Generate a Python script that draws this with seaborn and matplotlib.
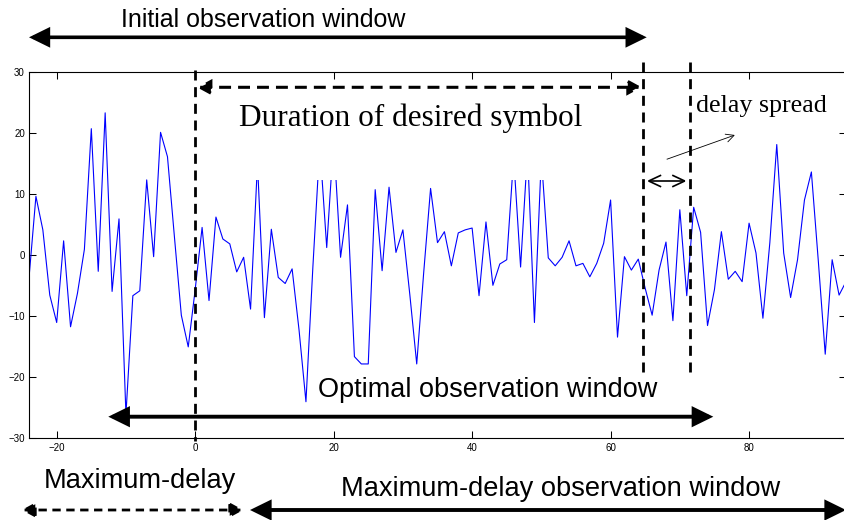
import numpy as np
import pandas as pd
import matplotlib
matplotlib.use("Agg")
import matplotlib.pyplot as plt
from matplotlib.patches import Rectangle
import seaborn as sns

# ---------------- data ----------------
sample_index = list(range(-24, 95))
signal_values = [
    -3.8, 9.6, 4.1, -6.6, -11.1, 2.3, -11.8, -6.3, 0.9, 20.7,
    -2.7, 23.3, -6.0, 5.9, -26.2, -6.7, -5.9, 12.3, -0.3, 20.1,
    16.1, 3.0, -9.9, -15.1, -5.7, 4.5, -7.5, 6.2, 2.6, 1.8,
    -2.8, -0.4, -8.9, 15.0, -10.3, 4.2, -3.7, -4.7, -2.3, -12.3,
    -24.1, -2.0, 18.0, 1.2, 19.0, -0.4, 8.2, -16.7, -17.9, -17.9,
    10.7, -2.6, 11.1, 0.4, 4.1, -6.5, -17.9, -3.0, 10.9, 2.0,
    3.8, -1.8, 3.6, 4.1, 4.4, -6.7, 5.4, -5.0, -1.5, -0.8,
    16.0, -2.0, 17.0, -11.1, 16.0, -0.5, -1.8, -0.4, 2.3, -1.8,
    -1.4, -3.6, -1.4, 1.9, 9.0, -13.5, -0.3, -2.5, -0.7, -5.5,
    -9.9, -2.5, 2.1, -10.8, 7.4, -6.7, 7.8, 3.7, -11.6, -5.7,
    3.8, -4.0, -2.7, -4.4, 5.2, 0.3, -10.4, 2.0, 18.1, 0.3,
    -7.0, -0.8, 9.0, 13.6, -1.0, -16.3, -0.8, -6.6, -4.4,
]
x_ticks = [-20, 0, 20, 40, 60, 80]
y_ticks = [-30, -20, -10, 0, 10, 20, 30]
symbol_start = 0.0
symbol_end = 64.7
delay_end = 71.4

df = pd.DataFrame({"n": sample_index, "v": signal_values})

# ---------------- style ----------------
sns.set_style("ticks")
plt.rcParams["font.family"] = ["Liberation Sans", "DejaVu Sans"]
plt.rcParams["text.color"] = "black"
plt.rcParams["xtick.labelcolor"] = "black"
plt.rcParams["ytick.labelcolor"] = "black"

W, H = 845, 520
fig = plt.figure(figsize=(W / 100, H / 100), dpi=100)
ax = fig.add_axes([29 / W, (H - 437.7) / H, (846 - 29) / W, (437.7 - 72) / H])

sns.lineplot(data=df, x="n", y="v", color="blue", lw=0.8, ax=ax, zorder=2)

ax.set_xlim(-24, 94)
ax.set_ylim(-30, 30)
ax.set_xticks(x_ticks)
ax.set_yticks(y_ticks)
ax.set_xlabel("")
ax.set_ylabel("")
ax.tick_params(direction="in", top=True, right=True, length=5, width=0.75,
               labelsize=7, colors="black")
ax.tick_params(axis="x", pad=3.5)
ax.tick_params(axis="y", pad=3)
for s in ["left", "top", "bottom"]:
    ax.spines[s].set_visible(True)
    ax.spines[s].set_linewidth(0.8)
    ax.spines[s].set_color("black")
ax.spines["right"].set_visible(False)

# white area behind the "Duration" label (hides clipped peaks)
ax.add_patch(Rectangle((5, 12.3), 55, 14.5, facecolor="white",
                       edgecolor="none", zorder=3))

# vertical dashed markers
dash_v = (0, (3.6, 2.4))
ax.plot([symbol_start, symbol_start], [30.3, -30.5], color="black", lw=2.0,
        ls=dash_v, clip_on=False, zorder=4)
ax.plot([symbol_end, symbol_end], [31.6, -19.7], color="black", lw=2.0,
        ls=dash_v, clip_on=False, zorder=4)
ax.plot([delay_end, delay_end], [31.6, -19.7], color="black", lw=2.0,
        ls=dash_v, clip_on=False, zorder=4)


def P(x, y):
    return (x / W, 1 - y / H)


def arrow(x1, y1, x2, y2, style, lw, ms=20, ls="-", z=5):
    ax.annotate("", xy=P(x2, y2), xytext=P(x1, y1), xycoords="figure fraction",
                textcoords="figure fraction", annotation_clip=False,
                arrowprops=dict(arrowstyle=style, lw=lw, color="black",
                                shrinkA=0, shrinkB=0, mutation_scale=ms,
                                linestyle=ls, joinstyle="miter",
                                capstyle="butt"),
                zorder=z)


big = "<|-|>,head_length=0.55,head_width=0.27"
# Initial observation window
arrow(29, 37.3, 646.7, 37.3, big, 2.6)
fig.text(121 / W, 1 - 26.7 / H, "Initial observation window", fontsize=18,
         va="baseline", ha="left", color="black")

# Duration of desired symbol (dashed)
arrow(197, 87.3, 641.7, 87.3, "<|-|>,head_length=0.55,head_width=0.3", 2.2,
      ms=14, ls=(0, (3.9, 2.3)))
fig.text(239.3 / W, 1 - 126 / H, "Duration of desired symbol", fontsize=22.5,
         va="baseline", ha="left", color="black",
         family=["Liberation Serif", "DejaVu Serif"], zorder=6)

# delay spread
fig.text(696 / W, 1 - 111.7 / H, "delay spread", fontsize=18.7,
         va="baseline", ha="left", color="black",
         family=["Liberation Serif", "DejaVu Serif"])
arrow(666.7, 159.3, 735, 135, "->,head_length=0.6,head_width=0.3", 0.6, ms=10)
arrow(646.7, 181, 686.7, 181, "<->,head_length=0.9,head_width=0.42", 1.2, ms=10)

# Optimal observation window
fig.text(318 / W, 1 - 396.7 / H, "Optimal observation window", fontsize=19.5,
         va="baseline", ha="left", color="black")
arrow(108.3, 416.7, 713.3, 416.7, big, 2.8)

# Maximum-delay
fig.text(43.3 / W, 1 - 488.3 / H, "Maximum-delay", fontsize=19.6,
         va="baseline", ha="left", color="black")
arrow(21.7, 510, 243.3, 510, "<|-|>,head_length=0.55,head_width=0.3", 2.0,
      ms=14, ls=(0, (3.0, 2.0)))

# Maximum-delay observation window
fig.text(340.7 / W, 1 - 496 / H, "Maximum-delay observation window",
         fontsize=19.6, va="baseline", ha="left", color="black")
arrow(250, 510, 846, 510, big, 2.8)

fig.savefig("out.png", dpi=100)
